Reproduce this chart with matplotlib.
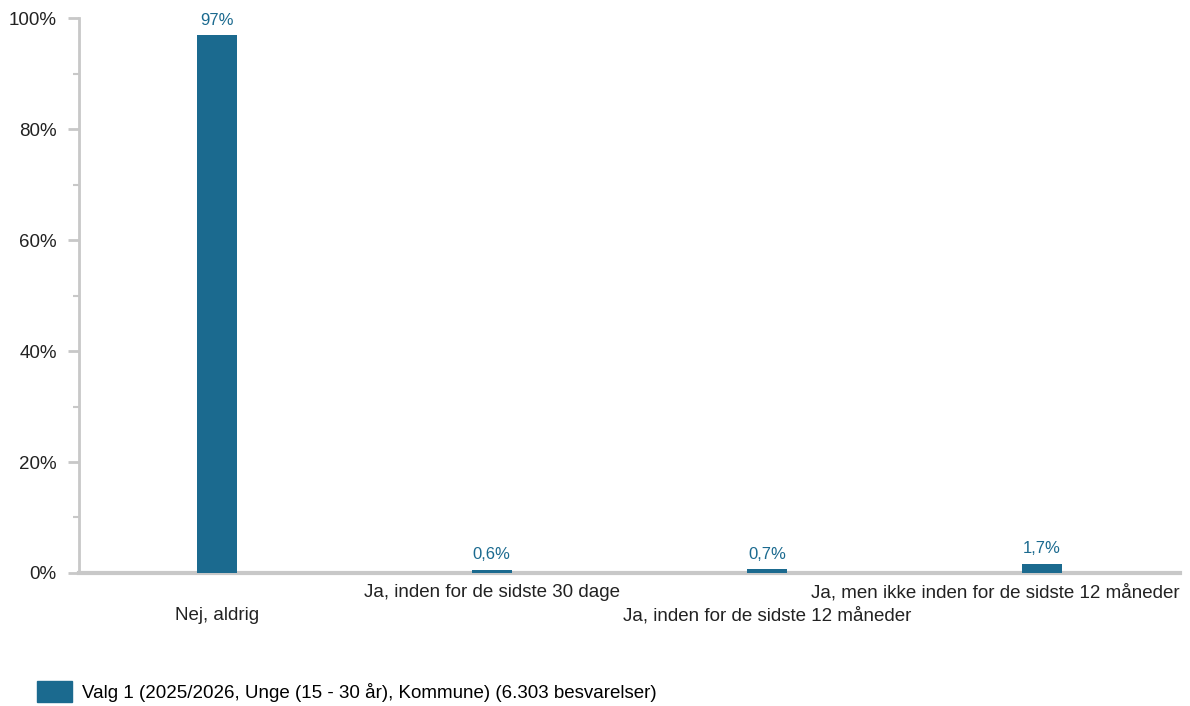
import matplotlib.pyplot as plt
import numpy as np
from matplotlib.ticker import MultipleLocator, FuncFormatter
from matplotlib.patches import Patch

plt.rcParams['font.family'] = ['Liberation Sans', 'DejaVu Sans']

# data
categories = ['Nej, aldrig', 'Ja, inden for de sidste 30 dage',
              'Ja, inden for de sidste 12 måneder',
              'Ja, men ikke inden for de sidste 12 måneder']
values = [97, 0.6, 0.7, 1.7]
value_labels = ['97%', '0,6%', '0,7%', '1,7%']
legend_label = 'Valg 1 (2025/2026, Unge (15 - 30 år), Kommune) (6.303 besvarelser)'

bar_color = '#1b6a8f'
grey = '#c8c8c8'
txt = '#222222'

fig = plt.figure(figsize=(11.9, 7.06), dpi=100)
ax = fig.add_axes([0.0664, 0.1884, 0.925, 0.786])

x = np.arange(len(categories))
ax.bar(x, values, width=0.145, color=bar_color, zorder=3)
for xi, v, lab in zip(x, values, value_labels):
    ax.text(xi, v + 1.3, lab, ha='center', va='bottom', fontsize=12, color=bar_color)

ax.set_xlim(-0.5, len(categories) - 0.5)
ax.set_ylim(0, 100)
ax.yaxis.set_major_locator(MultipleLocator(20))
ax.yaxis.set_minor_locator(MultipleLocator(10))
ax.yaxis.set_major_formatter(FuncFormatter(lambda v, p: f'{v:.0f}%'))
ax.tick_params(axis='y', which='major', length=8, width=2, color=grey, labelsize=13.5, labelcolor=txt, pad=8)
ax.tick_params(axis='y', which='minor', length=4, width=1.5, color=grey)

ax.set_xticks(x)
ax.set_xticklabels([])
ax.tick_params(axis='x', length=0)
for xi, cat in zip(x, categories):
    dy = -0.02 if xi % 2 == 1 else -0.061
    if xi == len(categories) - 1:
        # last label pushed left so it ends at the axis edge
        ax.text(1.0, dy, cat, transform=ax.transAxes, ha='right', va='top',
                fontsize=13.5, color=txt)
    else:
        ax.text(xi, dy, cat, transform=ax.get_xaxis_transform(), ha='center', va='top',
                fontsize=13.5, color=txt)

for s in ['top', 'right']:
    ax.spines[s].set_visible(False)
ax.spines['left'].set_color(grey)
ax.spines['left'].set_linewidth(2)
ax.spines['bottom'].set_color(grey)
ax.spines['bottom'].set_linewidth(3)

fig.legend(handles=[Patch(color=bar_color, label=legend_label)], loc='lower left',
           bbox_to_anchor=(0.017, -0.018), frameon=False, fontsize=13.5,
           handlelength=1.85, handleheight=1.35, handletextpad=0.55)

fig.savefig('out.png', dpi=100)
